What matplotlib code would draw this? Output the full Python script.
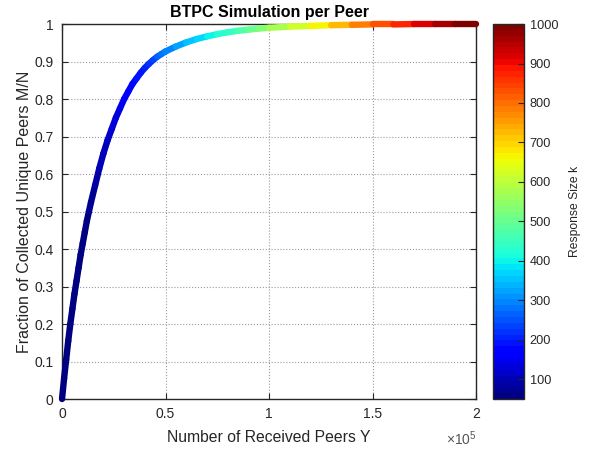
import numpy as np
import matplotlib
matplotlib.use('Agg')
import matplotlib.pyplot as plt
from matplotlib.collections import LineCollection
from matplotlib.colors import Normalize
from matplotlib.cm import ScalarMappable
from matplotlib.ticker import FuncFormatter

plt.rcParams['font.family'] = ['Liberation Sans', 'DejaVu Sans']
plt.rcParams['mathtext.fontset'] = 'custom'
plt.rcParams['mathtext.rm'] = 'Liberation Sans'

# Received peers Y (thousands), collected fraction M/N and response size k
received_k = [0, 1, 2, 3, 4, 5, 6, 7, 8, 9, 10, 11, 12, 13, 14, 16, 18, 20,
              22, 24, 26, 28, 30, 32, 34, 36, 38, 40, 42, 44, 46, 48, 50,
              55, 60, 65, 70, 75, 80, 85, 90, 95, 100, 110, 120, 130, 140,
              150, 160, 170, 180, 190, 200]
fraction = [0.0, 0.055, 0.105, 0.155, 0.2, 0.24, 0.28, 0.315, 0.35, 0.385,
            0.415, 0.445, 0.475, 0.5, 0.525, 0.57, 0.615, 0.655,
            0.69, 0.72, 0.75, 0.775, 0.8, 0.82, 0.84, 0.855, 0.87, 0.883,
            0.894, 0.904, 0.913, 0.92, 0.927,
            0.94, 0.951, 0.96, 0.967, 0.973, 0.978, 0.982, 0.985, 0.988,
            0.99, 0.993, 0.995, 0.997, 0.998,
            0.999, 0.999, 1.0, 1.0, 1.0, 1.0]
resp_k = [50, 50, 50, 50, 50, 50, 50, 50, 50, 50, 50, 55, 60, 65, 70, 80,
          90, 100, 110, 120, 130, 140, 150, 160, 170, 180, 190, 200,
          215, 235, 250, 268, 285, 310, 335, 360, 385, 410, 435, 460,
          490, 520, 550, 600, 645, 700, 760, 810, 860, 900, 940, 975, 1000]

k_ticks = [100, 200, 300, 400, 500, 600, 700, 800, 900, 1000]
x_ticks = [0, 50000, 100000, 150000, 200000]
y_ticks = [0, 0.1, 0.2, 0.3, 0.4, 0.5, 0.6, 0.7, 0.8, 0.9, 1]

txt = '#262626'
cmap = plt.get_cmap('jet', 64)
norm = Normalize(vmin=50, vmax=1000)

fig = plt.figure(figsize=(5.89, 4.5), dpi=100)
ax = fig.add_axes([0.1053, 0.1133, 0.703, 0.8333])

# thick curve, each segment coloured by response size
received = np.array(received_k) * 1000.0
pts = np.column_stack([received, fraction])
segs = np.stack([pts[:-1], pts[1:]], axis=1)
seg_k = [(a + b) / 2 for a, b in zip(resp_k[:-1], resp_k[1:])]
lc = LineCollection(segs, cmap=cmap, norm=norm, linewidths=4.6,
                    capstyle='round', joinstyle='round', zorder=3)
lc.set_array(np.array(seg_k))
lc.set_clip_on(False)
ax.add_collection(lc)

ax.set_xlim(0, 200000)
ax.set_ylim(0, 1)
ax.set_xticks(x_ticks)
ax.set_yticks(y_ticks)
ax.xaxis.set_major_formatter(FuncFormatter(lambda v, p: f'{v / 1e5:g}'))
ax.yaxis.set_major_formatter(FuncFormatter(lambda v, p: f'{v:g}'))
ax.tick_params(direction='in', length=4, width=0.8, colors=txt,
               labelsize=10, top=True, right=True, pad=6)
ax.grid(True, linestyle=':', color='#9a9a9a', linewidth=0.8)
for s in ax.spines.values():
    s.set_color(txt)
    s.set_linewidth(1.0)

ax.set_title('BTPC Simulation per Peer', fontsize=11.5, fontweight='bold',
             color='black', pad=5)
ax.set_xlabel('Number of Received Peers Y', fontsize=11.3, color=txt,
              labelpad=6)
ax.set_ylabel('Fraction of Collected Unique Peers M/N', fontsize=11.5,
              color=txt, labelpad=1.5)
fig.text(477 / 589, 1 - 439 / 450, r'$\times\mathregular{10^5}$',
         fontsize=10, color='#555555', ha='right', va='center')

# colour bar for response size
cax = fig.add_axes([0.837, 0.1133, 0.053, 0.8333])
sm = ScalarMappable(norm=norm, cmap=cmap)
cb = fig.colorbar(sm, cax=cax, ticks=k_ticks)
cb.outline.set_edgecolor(txt)
cb.outline.set_linewidth(1.0)
cax.tick_params(direction='in', length=4, width=0.8, colors=txt,
                labelsize=9.2, pad=4)
cb.set_label('Response Size k', fontsize=8.7, color=txt, labelpad=8)

fig.savefig('out.png', dpi=100)
